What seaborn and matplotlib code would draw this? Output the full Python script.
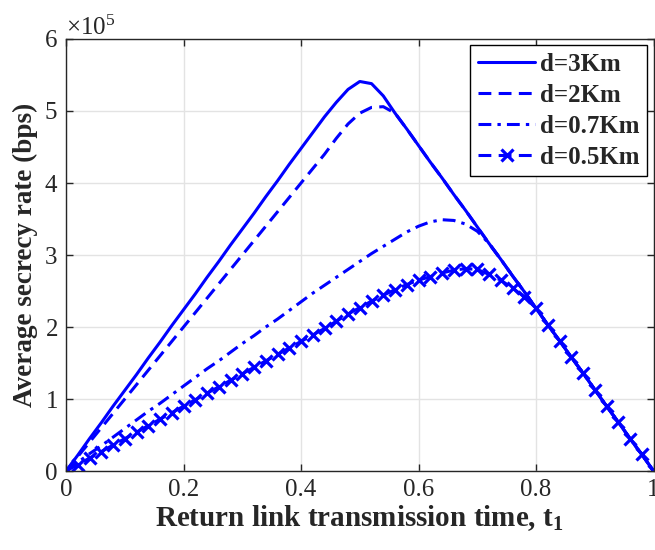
import numpy as np
import pandas as pd
import matplotlib
matplotlib.use('Agg')
import matplotlib.pyplot as plt
import seaborn as sns

# sampling grid of the return link transmission time t1
t1 = np.linspace(0, 1, 51)

# average secrecy rate, in units of 1e5 bps
rate_3km = [0, 0.22, 0.45, 0.67, 0.90, 1.12, 1.34, 1.57, 1.79, 2.02, 2.24, 2.46, 2.69,
            2.91, 3.14, 3.36, 3.58, 3.81, 4.03, 4.26, 4.48, 4.70, 4.92, 5.12, 5.30, 5.41,
            5.38, 5.21, 4.97, 4.75, 4.52, 4.29, 4.07, 3.84, 3.62, 3.39, 3.16, 2.94, 2.71,
            2.49, 2.26, 2.03, 1.81, 1.58, 1.36, 1.13, 0.90, 0.68, 0.45, 0.23, 0]
rate_2km = [0, 0.20, 0.40, 0.60, 0.80, 1.00, 1.20, 1.40, 1.60, 1.80, 2.00, 2.20, 2.40,
            2.60, 2.80, 3.00, 3.20, 3.40, 3.60, 3.80, 4.00, 4.20, 4.40, 4.62, 4.82, 4.97,
            5.05, 5.06, 4.97, 4.75, 4.52, 4.29, 4.07, 3.84, 3.62, 3.39, 3.16, 2.94, 2.71,
            2.49, 2.26, 2.03, 1.81, 1.58, 1.36, 1.13, 0.90, 0.68, 0.45, 0.23, 0]
rate_07km = [0, 0.12, 0.24, 0.35, 0.47, 0.59, 0.71, 0.83, 0.94, 1.06, 1.18, 1.30, 1.42,
             1.53, 1.65, 1.77, 1.88, 2.00, 2.11, 2.23, 2.35, 2.47, 2.58, 2.69, 2.80, 2.91,
             3.02, 3.12, 3.22, 3.32, 3.40, 3.46, 3.49, 3.48, 3.43, 3.33, 3.16, 2.94, 2.71,
             2.49, 2.26, 2.03, 1.81, 1.58, 1.36, 1.13, 0.90, 0.68, 0.45, 0.23, 0]
rate_05km = [0, 0.09, 0.18, 0.27, 0.36, 0.45, 0.54, 0.63, 0.72, 0.81, 0.90, 0.99, 1.08,
             1.17, 1.26, 1.35, 1.44, 1.53, 1.62, 1.71, 1.80, 1.89, 1.98, 2.08, 2.18, 2.27,
             2.36, 2.44, 2.52, 2.59, 2.65, 2.70, 2.75, 2.79, 2.81, 2.80, 2.73, 2.65, 2.54,
             2.42, 2.26, 2.03, 1.81, 1.58, 1.36, 1.13, 0.90, 0.68, 0.45, 0.23, 0]

labels = ['d=3Km', 'd=2Km', 'd=0.7Km', 'd=0.5Km']

sns.set_theme(style="ticks")
plt.rcParams['font.family'] = ['Liberation Serif', 'DejaVu Serif']
plt.rcParams['mathtext.fontset'] = 'custom'
plt.rcParams['mathtext.rm'] = 'Liberation Serif'
plt.rcParams['mathtext.bf'] = 'Liberation Serif:bold'
plt.rcParams['mathtext.it'] = 'Liberation Serif:italic'

fig = plt.figure(figsize=(6.55, 5.5), dpi=100)
ax = fig.add_axes([0.1008, 0.1436, 0.8970, 0.7855])

blue = '#0000ff'
lw = 2.2
series = [rate_3km, rate_2km, rate_07km, rate_05km]
styles = [
    dict(linestyle='-'),
    dict(linestyle=(0, (4.2, 2.4))),
    dict(linestyle=(0, (4.2, 2.0, 1.1, 2.0))),
    dict(linestyle=(0, (4.2, 2.4)), marker='x', markersize=8.5, markeredgewidth=2.3,
         markeredgecolor=blue),
]
for vals, lab, st in zip(series, labels, styles):
    sns.lineplot(x=t1, y=np.array(vals) * 1e5, ax=ax, color=blue, linewidth=lw,
                 label=lab, **st)

ax.set_xlim(0, 1)
ax.set_ylim(0, 6e5)
ax.set_xticks([0, 0.2, 0.4, 0.6, 0.8, 1])
ax.set_xticklabels(['0', '0.2', '0.4', '0.6', '0.8', '1'])
ax.set_yticks(np.arange(0, 7e5, 1e5))
ax.ticklabel_format(axis='y', style='sci', scilimits=(5, 5), useMathText=True)

ax.grid(True, color='#e3e3e3', linewidth=1.0)
ax.set_axisbelow(True)
for sp in ax.spines.values():
    sp.set_visible(True)
    sp.set_color('#262626')
    sp.set_linewidth(1.0)
ax.tick_params(direction='in', length=5, width=1, colors='#262626', labelsize=18,
               top=True, right=True, pad=6)
ax.yaxis.get_offset_text().set_fontsize(18)
ax.yaxis.get_offset_text().set_color('#262626')

ax.set_xlabel(r'Return link transmission time, t$_{\mathbf{1}}$', fontsize=21,
              fontweight='bold', color='#262626', labelpad=1)
ax.set_ylabel('Average secrecy rate (bps)', fontsize=19.5, fontweight='bold',
              color='#262626', labelpad=4)

leg = ax.legend(loc='upper right', prop={'weight': 'bold', 'size': 18}, frameon=True,
                fancybox=False, framealpha=1, edgecolor='black', handlelength=2.3,
                borderaxespad=0.25, borderpad=0.3, labelspacing=0.32, handletextpad=0.2)
leg.get_frame().set_linewidth(1.0)

fig.savefig('out.png', dpi=100)
plt.close(fig)
